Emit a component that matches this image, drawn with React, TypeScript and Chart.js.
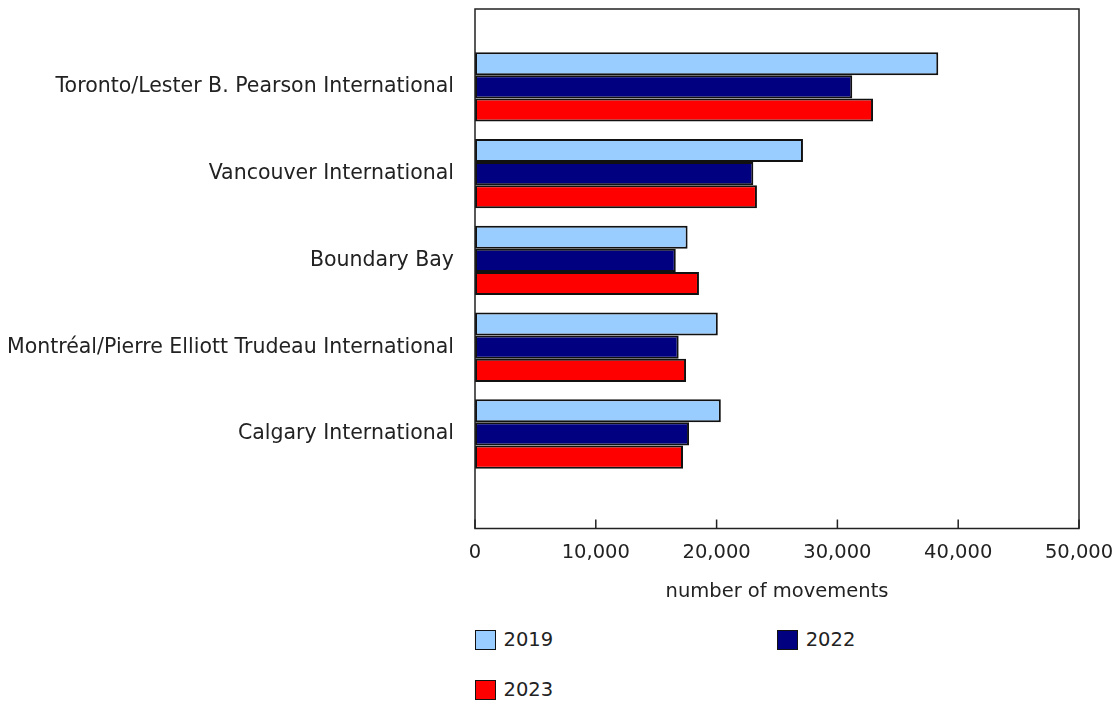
import React, { useEffect, useRef } from "react";
import { Chart, registerables } from "chart.js";

Chart.register(...registerables);

const categories = [
  "Toronto/Lester B. Pearson International",
  "Vancouver International",
  "Boundary Bay",
  "Montréal/Pierre Elliott Trudeau International",
  "Calgary International",
];
const values2019 = [38350, 27150, 17600, 20100, 20350];
const values2022 = [31230, 23040, 16620, 16860, 17720];
const values2023 = [32950, 23340, 18540, 17470, 17220];
const seriesLabels = ["2019", "2022", "2023"];
const seriesColors = ["#99CCFF", "#000080", "#FF0000"];
const xTickValues = [0, 10000, 20000, 30000, 40000, 50000];
const xTitle = "number of movements";

const FONT = "'DejaVu Sans', Verdana, sans-serif";
const TEXT = "#222222";

const framePlugin = {
  id: "frame",
  afterDraw(chart: any) {
    const { ctx, chartArea: a, scales } = chart;
    const xs = scales.x;
    ctx.save();
    ctx.strokeStyle = "#222222";
    ctx.lineWidth = 1.5;
    ctx.strokeRect(a.left, a.top, a.right - a.left, a.bottom - a.top);
    xs.ticks.forEach((t: any) => {
      const px = xs.getPixelForValue(t.value);
      ctx.beginPath();
      ctx.moveTo(px, a.bottom);
      ctx.lineTo(px, a.bottom - 9);
      ctx.stroke();
    });
    ctx.restore();
  },
};

const CANVAS_W = 1116;
const CANVAS_H = 604;

function ChartCanvas() {
  const ref = useRef<HTMLCanvasElement | null>(null);
  useEffect(() => {
    if (!ref.current) return;
    const allSeries = [values2019, values2022, values2023];
    const chart = new Chart(ref.current, {
      type: "bar",
      data: {
        datasets: allSeries.map((vals, si) => ({
          label: seriesLabels[si],
          data: vals.map((v, i) => ({ x: v, y: i })),
          backgroundColor: seriesColors[si],
          borderColor: "#111111",
          borderWidth: 2,
          borderSkipped: false,
          categoryPercentage: 0.8,
          barPercentage: 1.0,
        })),
      },
      options: {
        indexAxis: "y",
        animation: false,
        responsive: false,
        devicePixelRatio: 1,
        layout: { padding: { top: 9, right: 37, bottom: 0, left: 0 } },
        plugins: {
          legend: { display: false },
          tooltip: { enabled: false },
        },
        scales: {
          x: {
            type: "linear",
            min: 0,
            max: 50000,
            offset: false,
            afterBuildTicks: (s: any) => {
              s.ticks = xTickValues.map((v) => ({ value: v }));
            },
            grid: { display: false, drawTicks: false },
            border: { display: false },
            ticks: {
              padding: 13,
              color: TEXT,
              font: { family: FONT, size: 19.5 },
              maxRotation: 0,
              autoSkip: false,
              callback: (v: any) => Number(v).toLocaleString("en-US"),
            },
            title: {
              display: true,
              text: xTitle,
              color: TEXT,
              font: { family: FONT, size: 19.5 },
              padding: { top: 0, bottom: 0 },
            },
            afterFit: (s: any) => {
              s.height = 75.5;
              s.paddingLeft = 0;
              s.paddingRight = 0;
            },
          },
          y: {
            type: "linear",
            reverse: true,
            offset: false,
            min: -0.898,
            max: 5.09,
            afterBuildTicks: (s: any) => {
              s.ticks = categories.map((_, i) => ({ value: i }));
            },
            grid: { display: false, drawTicks: false, offset: false },
            border: { display: false },
            ticks: {
              padding: 21,
              color: TEXT,
              font: { family: FONT, size: 20.5 },
              autoSkip: false,
              callback: (v: any) => categories[v] ?? "",
            },
            afterFit: (s: any) => {
              s.width = 475;
              s.paddingTop = 0;
              s.paddingBottom = 0;
            },
          },
        },
      } as any,
      plugins: [framePlugin],
    });
    return () => chart.destroy();
  }, []);
  return (
    <canvas
      ref={ref}
      width={CANVAS_W}
      height={CANVAS_H}
      style={{ display: "block", width: CANVAS_W, height: CANVAS_H }}
    />
  );
}

function LegendItem({ label, color, left, top }: { label: string; color: string; left: number; top: number }) {
  return (
    <div
      style={{
        position: "absolute",
        left,
        top,
        display: "flex",
        alignItems: "center",
        height: 20,
        fontFamily: FONT,
        fontSize: 19.5,
        color: TEXT,
        lineHeight: "20px",
        whiteSpace: "nowrap",
      }}
    >
      <span
        style={{
          display: "inline-block",
          boxSizing: "border-box",
          width: 21,
          height: 20,
          background: color,
          border: "1px solid #111",
          marginRight: 8,
        }}
      />
      <span>{label}</span>
    </div>
  );
}

export default function App() {
  useEffect(() => {
    document.body.style.margin = "0";
    document.body.style.overflow = "hidden";
  }, []);
  return (
    <div style={{ position: "relative", width: 1116, height: 701, overflow: "hidden" }}>
      <ChartCanvas />
      <LegendItem label={seriesLabels[0]} color={seriesColors[0]} left={474.5} top={630} />
      <LegendItem label={seriesLabels[1]} color={seriesColors[1]} left={776.7} top={630} />
      <LegendItem label={seriesLabels[2]} color={seriesColors[2]} left={474.5} top={680} />
    </div>
  );
}
